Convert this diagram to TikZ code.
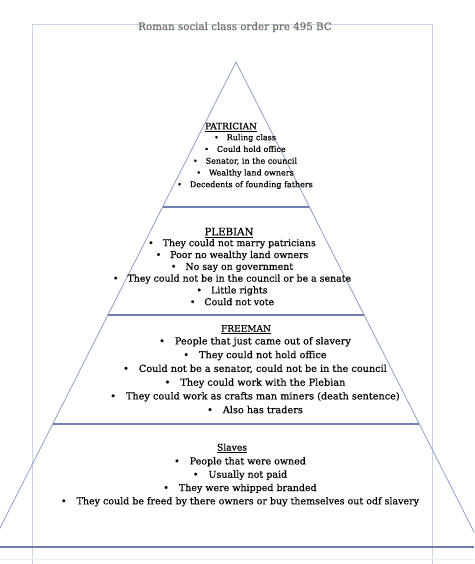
\documentclass[tikz,border=0pt]{standalone}
\usepackage{fontspec}
\setmainfont{DejaVu Serif}[FakeBold=0.35]
\usetikzlibrary{calc}
\definecolor{framec}{HTML}{C9D3E6}
\definecolor{tric}{HTML}{8E9FC8}
\definecolor{divc}{HTML}{6F80B2}
\definecolor{titlec}{HTML}{707070}
\definecolor{textc}{HTML}{000000}
\begin{document}
\begin{tikzpicture}[x=1pt,y=-1pt,
  framestyle/.style={draw=framec,line width=0.8pt},
  tristyle/.style={draw=tric,line width=0.8pt},
  divstyle/.style={draw=divc,line width=2pt},
  shadestyle/.style={draw=black!7,line width=0.8pt},
  item/.style={anchor=base,inner sep=0pt,text=textc},
  head/.style={anchor=base,inner sep=0pt,text=textc}]
\useasboundingbox (0,0) rectangle (474,564);
\clip (0,0) rectangle (474,564);
\fill[white] (0,0) rectangle (474,564);
% frame
\coordinate (fbl) at (32,570);
\coordinate (ftl) at (32,24);
\coordinate (ftr) at (432,24);
\coordinate (fbr) at (432,570);
\draw[framestyle] (fbl) -- (ftl) -- (ftr) -- (fbr);
% title
\node[anchor=base,inner sep=0pt,text=titlec,font=\fontsize{10.3}{12}\selectfont] (title) at (235,30) {Roman social class order pre 495 BC};
% pyramid
\coordinate (apex) at (236,62);
\coordinate (bl) at (-9.6,547);
\coordinate (br) at (481.6,547);
\draw[tristyle] (bl) -- (apex) -- (br);
\coordinate (d1l) at ($(apex)!0.29897!(bl)$);
\coordinate (d1r) at ($(apex)!0.29897!(br)$);
\coordinate (d2l) at ($(apex)!0.52165!(bl)$);
\coordinate (d2r) at ($(apex)!0.52165!(br)$);
\coordinate (d3l) at ($(apex)!0.74639!(bl)$);
\coordinate (d3r) at ($(apex)!0.74639!(br)$);
\coordinate (b0l) at (0,547);
\coordinate (b0r) at (474,547);
\coordinate (s0l) at (0,559);
\coordinate (s0r) at (474,559);
\draw[divstyle] (d1l) -- (d1r);
\draw[divstyle] (d2l) -- (d2r);
\draw[divstyle] (d3l) -- (d3r);
\draw[divstyle] (b0l) -- (b0r);
\draw[shadestyle] (s0l) -- (s0r);
% PATRICIAN
\node[head,font=\fontsize{8.9}{10}\selectfont] (hpat) at (231,129.3) {\underline{PATRICIAN}};
\foreach \t [count=\i] in {Ruling class, Could hold office, {Senator, in the council}, Wealthy land owners, Decedents of founding fathers}
  \node[item,font=\fontsize{8.0}{10}\selectfont] (pat\i) at (245,{140.2+11.75*(\i-1)}) {\textbullet\hspace{8pt}\t};
% PLEBIAN
\node[head,font=\fontsize{10.2}{11}\selectfont] (hpleb) at (229,235.3) {\underline{PLEBIAN}};
\foreach \t [count=\i] in {They could not marry patricians, Poor no wealthy land owners, No say on government, They could not be in the council or be a senate, Little rights, Could not vote}
  \node[item,font=\fontsize{9.4}{11}\selectfont] (pleb\i) at (232,{246.2+11.8*(\i-1)}) {\textbullet\hspace{9pt}\t};
% FREEMAN
\node[head,font=\fontsize{9.0}{11}\selectfont] (hfree) at (246,331.6) {\underline{FREEMAN}};
\foreach \t [count=\i] in {People that just came out of slavery, They could not hold office, {Could not be a senator, could not be in the council}, They could work with the Plebian, They could work as crafts man miners (death sentence), Also has traders}
  \node[item,font=\fontsize{9.7}{11}\selectfont] (free\i) at (255,{344.4+13.75*(\i-1)}) {\textbullet\hspace{10pt}\t};
% SLAVES
\node[head,font=\fontsize{9.2}{11}\selectfont] (hslave) at (232,450.6) {\underline{Slaves}};
\foreach \t [count=\i] in {People that were owned, Usually not paid, They were whipped branded, They could be freed by there owners or buy themselves out odf slavery}
  \node[item,font=\fontsize{9.5}{11}\selectfont] (slave\i) at (240,{464.4+13.3*(\i-1)}) {\textbullet\hspace{10pt}\t};
\end{tikzpicture}
\end{document}
